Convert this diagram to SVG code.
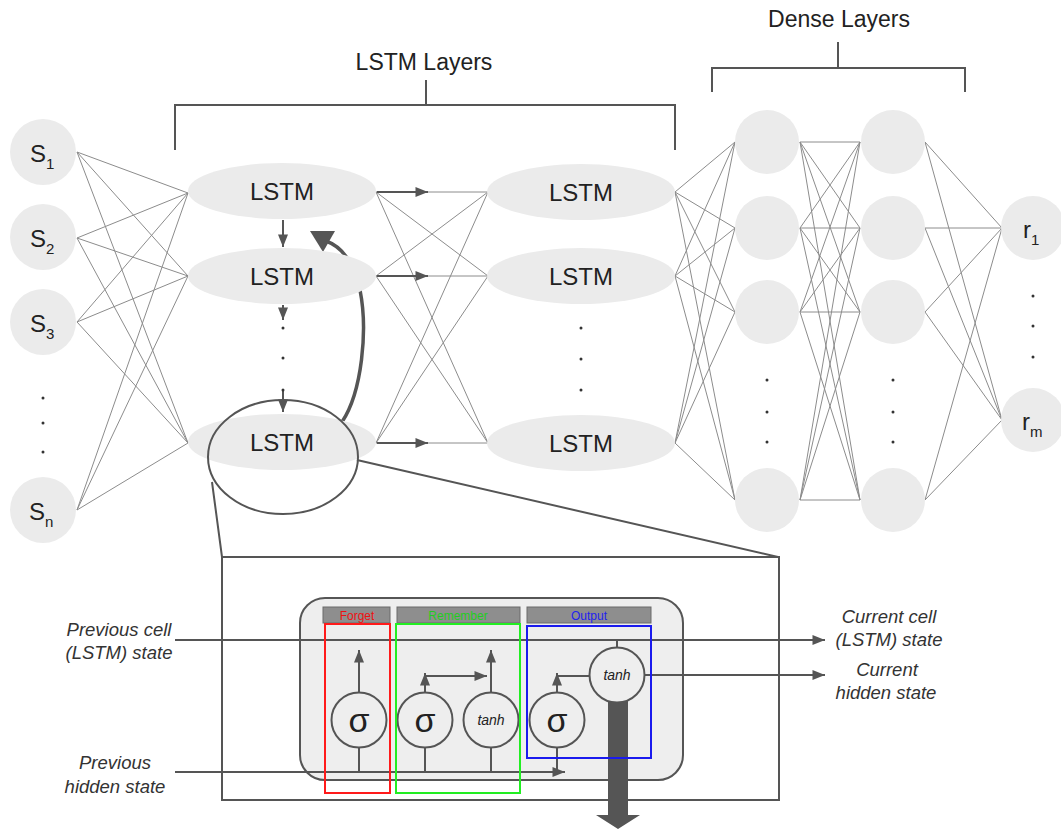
<svg xmlns="http://www.w3.org/2000/svg" width="1061" height="830" viewBox="0 0 1061 830">
<style>
.nd{fill:#ebebeb;stroke:none}
.mesh{fill:none;stroke:#8c8c8c;stroke-width:1}
.lbl{font-family:"Liberation Sans",Arial,sans-serif;fill:#222}
.big{font-size:24px}
.sub{font-size:15px}
.dot{fill:#333}
.dk{fill:none;stroke:#555;stroke-width:2}
.ar{fill:none;stroke:#555;stroke-width:2;marker-end:url(#ah)}
.it{font-family:"Liberation Sans",Arial,sans-serif;font-style:italic;font-size:18.5px;fill:#333;text-anchor:middle}
.hdr{fill:#8e8e8e;stroke:#6a6a6a;stroke-width:1}
.gt{font-family:"Liberation Sans",Arial,sans-serif;font-size:12px;text-anchor:middle}
.gc{fill:#eeeeee;stroke:#555;stroke-width:2}
.gate{fill:#eeeeee;stroke:#555;stroke-width:2}
.sig{font-size:34px;text-anchor:middle}
.th{font-size:14px;font-style:italic;text-anchor:middle}
</style>
<defs>
<marker id="ah" viewBox="0 0 10 8" refX="10" refY="4" markerWidth="13" markerHeight="10" markerUnits="userSpaceOnUse" orient="auto">
<path d="M0,0 L10,4 L0,8 z" fill="#555"/>
</marker>
</defs>
<rect width="1061" height="830" fill="#ffffff"/>

<g id="lstm-layers-label">
<path class="dk" d="M175,150 V105 H675 V150 M426,105 V80"/>
<text class="lbl" x="424" y="70" font-size="23" text-anchor="middle">LSTM Layers</text>
</g>
<g id="dense-layers-label">
<path class="dk" d="M712,92 V68 H965 V92 M838,68 V42"/>
<text class="lbl" x="839" y="27" font-size="23" text-anchor="middle">Dense Layers</text>
</g>

<g id="connectors">
<path class="mesh" d="M77,152 L188,193 M77,152 L188,276 M77,152 L188,443 M77,238 L188,193 M77,238 L188,276 M77,238 L188,443 M77,322 L188,193 M77,322 L188,276 M77,322 L188,443 M77,510 L188,193 M77,510 L188,276 M77,510 L188,443"/>
<path class="mesh" d="M376,192 L488,192 M376,192 L488,276 M376,192 L488,443 M376,276 L488,192 M376,276 L488,276 M376,276 L488,443 M376,443 L488,192 M376,443 L488,276 M376,443 L488,443"/>
<path class="mesh" d="M675,192 L735,142 M675,192 L735,228 M675,192 L735,312 M675,192 L735,500 M675,276 L735,142 M675,276 L735,228 M675,276 L735,312 M675,276 L735,500 M675,443 L735,142 M675,443 L735,228 M675,443 L735,312 M675,443 L735,500"/>
<path class="mesh" d="M800,142 L860,142 M800,142 L860,228 M800,142 L860,312 M800,142 L860,500 M800,228 L860,142 M800,228 L860,228 M800,228 L860,312 M800,228 L860,500 M800,312 L860,142 M800,312 L860,228 M800,312 L860,312 M800,312 L860,500 M800,500 L860,142 M800,500 L860,228 M800,500 L860,312 M800,500 L860,500"/>
<path class="mesh" d="M925,142 L1002,228 M925,142 L1002,420 M925,228 L1002,228 M925,228 L1002,420 M925,312 L1002,228 M925,312 L1002,420 M925,500 L1002,228 M925,500 L1002,420"/>
<line class="ar" x1="377" y1="192" x2="428" y2="192"/>
<line class="ar" x1="377" y1="276" x2="428" y2="276"/>
<line class="ar" x1="377" y1="443" x2="428" y2="443"/>
<line class="ar" x1="283" y1="220" x2="283" y2="247"/>
<line class="ar" x1="283" y1="305" x2="283" y2="320"/>
<line class="ar" x1="283" y1="390" x2="283" y2="412"/>
<path d="M326,241 Q351,250 360,290 C368,330 362,392 342,422" fill="none" stroke="#555" stroke-width="3.5"/>
<path d="M310,231 L335,231 L323,252 z" fill="#555"/>
</g>

<g id="s1"><circle class="nd" cx="43" cy="152" r="33"/><text class="lbl big" x="30" y="162">S<tspan class="sub" dy="7">1</tspan></text></g>
<g id="s2"><circle class="nd" cx="43" cy="237" r="33"/><text class="lbl big" x="30" y="247">S<tspan class="sub" dy="7">2</tspan></text></g>
<g id="s3"><circle class="nd" cx="43" cy="322" r="33"/><text class="lbl big" x="30" y="332">S<tspan class="sub" dy="7">3</tspan></text></g>
<g id="s-dots"><circle class="dot" cx="43" cy="398" r="1.5"/><circle class="dot" cx="43" cy="423" r="1.5"/><circle class="dot" cx="43" cy="452" r="1.5"/></g>
<g id="sn"><circle class="nd" cx="43" cy="510" r="33"/><text class="lbl big" x="29" y="520">S<tspan class="sub" dy="7">n</tspan></text></g>

<g id="lstm1a"><ellipse class="nd" cx="282" cy="191" rx="94" ry="28"/><text class="lbl big" x="282" y="200" text-anchor="middle">LSTM</text></g>
<g id="lstm1b"><ellipse class="nd" cx="282" cy="276" rx="94" ry="28"/><text class="lbl big" x="282" y="285" text-anchor="middle">LSTM</text></g>
<g id="lstm1-dots"><circle class="dot" cx="283" cy="328" r="1.5"/><circle class="dot" cx="283" cy="358" r="1.5"/><circle class="dot" cx="283" cy="390" r="1.5"/></g>
<g id="lstm1c"><ellipse class="nd" cx="282" cy="442" rx="94" ry="28"/><text class="lbl big" x="282" y="451" text-anchor="middle">LSTM</text></g>

<g id="lstm2a"><ellipse class="nd" cx="581" cy="192" rx="94" ry="28"/><text class="lbl big" x="581" y="201" text-anchor="middle">LSTM</text></g>
<g id="lstm2b"><ellipse class="nd" cx="581" cy="276" rx="94" ry="28"/><text class="lbl big" x="581" y="285" text-anchor="middle">LSTM</text></g>
<g id="lstm2-dots"><circle class="dot" cx="581" cy="328" r="1.5"/><circle class="dot" cx="581" cy="359" r="1.5"/><circle class="dot" cx="581" cy="390" r="1.5"/></g>
<g id="lstm2c"><ellipse class="nd" cx="581" cy="443" rx="94" ry="28"/><text class="lbl big" x="581" y="452" text-anchor="middle">LSTM</text></g>

<g id="d1a"><circle class="nd" cx="767" cy="142" r="32"/></g>
<g id="d1b"><circle class="nd" cx="767" cy="228" r="32"/></g>
<g id="d1c"><circle class="nd" cx="767" cy="312" r="32"/></g>
<g id="d1-dots"><circle class="dot" cx="767" cy="380" r="1.5"/><circle class="dot" cx="767" cy="412" r="1.5"/><circle class="dot" cx="767" cy="442" r="1.5"/></g>
<g id="d1d"><circle class="nd" cx="767" cy="500" r="32"/></g>
<g id="d2a"><circle class="nd" cx="893" cy="142" r="32"/></g>
<g id="d2b"><circle class="nd" cx="893" cy="228" r="32"/></g>
<g id="d2c"><circle class="nd" cx="893" cy="312" r="32"/></g>
<g id="d2-dots"><circle class="dot" cx="893" cy="380" r="1.5"/><circle class="dot" cx="893" cy="412" r="1.5"/><circle class="dot" cx="893" cy="442" r="1.5"/></g>
<g id="d2d"><circle class="nd" cx="893" cy="500" r="32"/></g>
<g id="r1"><circle class="nd" cx="1033" cy="228" r="32"/><text class="lbl big" x="1023" y="238">r<tspan class="sub" dy="7">1</tspan></text></g>
<g id="r-dots"><circle class="dot" cx="1033" cy="296" r="1.5"/><circle class="dot" cx="1033" cy="326" r="1.5"/><circle class="dot" cx="1033" cy="357" r="1.5"/></g>
<g id="rm"><circle class="nd" cx="1033" cy="420" r="32"/><text class="lbl big" x="1022" y="430">r<tspan class="sub" dy="7">m</tspan></text></g>

<g id="zoom">
<ellipse class="dk" cx="283" cy="457" rx="75" ry="57"/>
<path class="dk" d="M212,482 L222,557 M357,460 L778,557"/>
<rect class="dk" x="222" y="557" width="557" height="243"/>
</g>

<g id="cell">
<rect class="gc" x="300" y="598" width="383" height="182" rx="25"/>
<rect class="hdr" x="323" y="607" width="67" height="16"/>
<rect class="hdr" x="397" y="607" width="123" height="16"/>
<rect class="hdr" x="527" y="607" width="124" height="16"/>
<text class="gt" x="357" y="620" fill="#ee1111">Forget</text>
<text class="gt" x="458" y="620" fill="#22cc22">Remember</text>
<text class="gt" x="589" y="620" fill="#2222ee">Output</text>
</g>

<g id="cell-flow">
<line class="ar" x1="175" y1="640" x2="825" y2="640"/>
<line class="ar" x1="175" y1="772" x2="565" y2="772"/>
<path class="dk" d="M359,772 V748 M425,772 V748 M491,772 V748 M557,748 V772"/>
<line class="ar" x1="359" y1="693" x2="359" y2="650"/>
<line class="ar" x1="491" y1="693" x2="491" y2="650"/>
<line class="ar" x1="425" y1="693" x2="425" y2="673"/>
<line class="ar" x1="425" y1="676" x2="487" y2="676"/>
<line class="ar" x1="557" y1="693" x2="557" y2="673"/>
<path class="dk" d="M557,676 H590 M617,647 V640"/>
<line class="ar" x1="645" y1="675" x2="825" y2="675"/>
<path d="M608,700 H628 V815 H640 L618,829 L596,815 H608 z" fill="#555"/>
</g>

<g id="gate-forget"><circle class="gate" cx="359" cy="720" r="27.5"/><text class="lbl sig" x="359" y="732">σ</text></g>
<g id="gate-remember-sigma"><circle class="gate" cx="425" cy="720" r="27.5"/><text class="lbl sig" x="425" y="732">σ</text></g>
<g id="gate-remember-tanh"><circle class="gate" cx="491" cy="720" r="27.5"/><text class="lbl th" x="491" y="725">tanh</text></g>
<g id="gate-output-sigma"><circle class="gate" cx="557" cy="720" r="27.5"/><text class="lbl sig" x="557" y="732">σ</text></g>
<g id="gate-output-tanh"><circle class="gate" cx="617" cy="675" r="27.5"/><text class="lbl th" x="617" y="680">tanh</text></g>

<g id="gate-boxes">
<rect x="325" y="624" width="65" height="169" fill="none" stroke="#ff1a1a" stroke-width="2"/>
<rect x="396" y="624" width="124" height="169" fill="none" stroke="#22ee22" stroke-width="2"/>
<rect x="527" y="626" width="124" height="132" fill="none" stroke="#1a1aee" stroke-width="2"/>
</g>

<g id="labels">
<text class="it" x="119" y="636">Previous cell</text>
<text class="it" x="119" y="659">(LSTM) state</text>
<text class="it" x="115" y="769">Previous</text>
<text class="it" x="115" y="793">hidden state</text>
<text class="it" x="889" y="623">Current cell</text>
<text class="it" x="889" y="646">(LSTM) state</text>
<text class="it" x="887" y="676">Current</text>
<text class="it" x="886" y="699">hidden state</text>
</g>
</svg>
